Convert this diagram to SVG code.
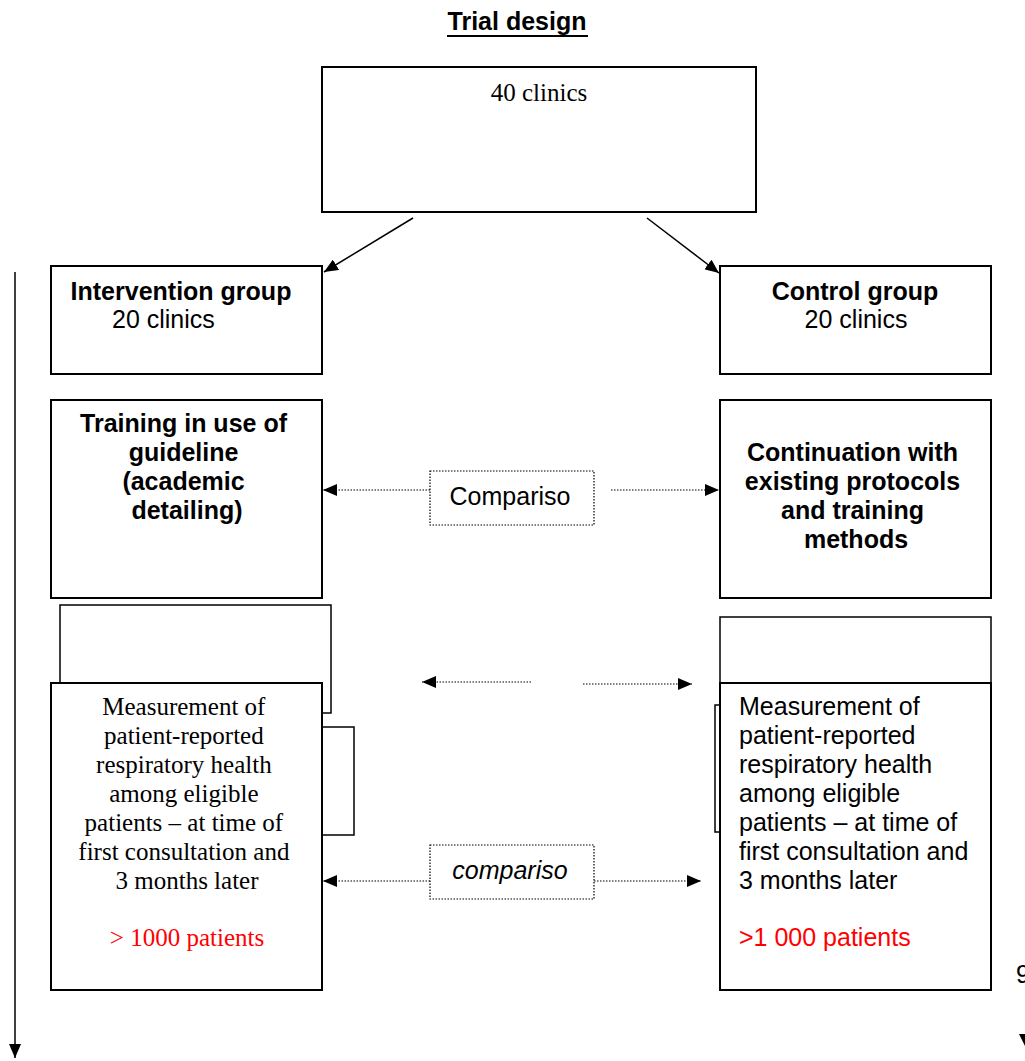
<svg xmlns="http://www.w3.org/2000/svg" width="1025" height="1061" viewBox="0 0 1025 1061">
<style>
.box{fill:#fff;stroke:#000;stroke-width:2}
.thin{fill:#fff;stroke:#000;stroke-width:1.5}
.dbox{fill:#fff;stroke:#000;stroke-width:1.2;stroke-dasharray:1.5 1.5}
.sans{font-family:"Liberation Sans",Arial,sans-serif;font-size:25px;fill:#000}
.b{font-weight:bold}
.serif{font-family:"Liberation Serif","Times New Roman",serif;font-size:25px;fill:#000}
.red{fill:#ff0000}
.ln{stroke:#000;stroke-width:1.5;fill:none}
.dot{stroke:#000;stroke-width:1.2;stroke-dasharray:1.5 1.5;fill:none}
</style>
<defs>
<marker id="ah2" viewBox="0 0 14 12" refX="14" refY="6" markerWidth="14" markerHeight="12" markerUnits="userSpaceOnUse" orient="auto">
<path d="M0,0 L14,6 L0,12 z" fill="#000"/>
</marker>
</defs>
<rect width="1025" height="1061" fill="#fff"/>

<g id="title">
<text x="517" y="30" text-anchor="middle" class="sans b" font-size="24">Trial design</text>
<line x1="447" y1="36" x2="588" y2="36" stroke="#000" stroke-width="2"/>
</g>

<g id="top">
<rect class="box" x="322" y="67" width="434" height="145"/>
<text x="539" y="101" text-anchor="middle" class="serif">40 clinics</text>
</g>

<g id="intervention">
<rect class="box" x="51" y="266" width="271" height="108"/>
<text x="181" y="300" text-anchor="middle" class="sans b">Intervention group</text>
<text x="112" y="328" class="sans">20 clinics</text>
</g>

<g id="control">
<rect class="box" x="720" y="266" width="271" height="108"/>
<text x="855" y="300" text-anchor="middle" class="sans b">Control group</text>
<text x="856" y="328" text-anchor="middle" class="sans">20 clinics</text>
</g>

<g id="training">
<rect class="box" x="51" y="400" width="271" height="198"/>
<text text-anchor="middle" class="sans b">
<tspan x="187" y="432">Training in use of</tspan>
<tspan x="187" y="461">guideline</tspan>
<tspan x="187" y="490">(academic</tspan>
<tspan x="187" y="519">detailing)</tspan>
</text>
</g>

<g id="continuation">
<rect class="box" x="720" y="400" width="271" height="198"/>
<text text-anchor="middle" class="sans b">
<tspan x="856" y="461">Continuation with</tspan>
<tspan x="856" y="490">existing protocols</tspan>
<tspan x="856" y="519">and training</tspan>
<tspan x="856" y="548">methods</tspan>
</text>
</g>

<g id="comparison1">
<rect class="dbox" x="430" y="471" width="164" height="54"/>
<text x="510" y="505" text-anchor="middle" class="sans" font-size="26">Compariso</text>
</g>

<g id="left-back">
<rect class="thin" x="60" y="605" width="271" height="108"/>
<rect class="thin" x="300" y="727" width="54" height="108"/>
</g>

<g id="right-back">
<rect class="thin" x="715" y="705" width="40" height="127"/>
<rect class="thin" x="720" y="617" width="271" height="108"/>
</g>

<g id="measure-left">
<rect class="box" x="51" y="683" width="271" height="307"/>
<text text-anchor="middle" class="serif">
<tspan x="187" y="715">Measurement of</tspan>
<tspan x="187" y="744">patient-reported</tspan>
<tspan x="187" y="773">respiratory health</tspan>
<tspan x="187" y="802">among eligible</tspan>
<tspan x="187" y="831">patients – at time of</tspan>
<tspan x="187" y="860">first consultation and</tspan>
<tspan x="187" y="889">3 months later</tspan>
</text>
<text x="187" y="946" text-anchor="middle" class="serif red">&gt; 1000 patients</text>
</g>

<g id="measure-right">
<rect class="box" x="720" y="683" width="271" height="307"/>
<text class="sans">
<tspan x="739" y="715">Measurement of</tspan>
<tspan x="739" y="744">patient-reported</tspan>
<tspan x="739" y="773">respiratory health</tspan>
<tspan x="739" y="802">among eligible</tspan>
<tspan x="739" y="831">patients – at time of</tspan>
<tspan x="739" y="860">first consultation and</tspan>
<tspan x="739" y="889">3 months later</tspan>
</text>
<text x="739" y="946" class="sans red">&gt;1 000 patients</text>
</g>

<g id="comparison2">
<rect class="dbox" x="430" y="845" width="164" height="54"/>
<text x="510" y="879" text-anchor="middle" class="sans" font-style="italic" font-size="26">compariso</text>
</g>

<g id="connectors">
<line class="ln" x1="413" y1="218" x2="324" y2="272" marker-end="url(#ah2)"/>
<line class="ln" x1="647" y1="218" x2="719" y2="273" marker-end="url(#ah2)"/>
<line class="dot" x1="430" y1="490" x2="323" y2="490" marker-end="url(#ah2)"/>
<line class="dot" x1="611" y1="490" x2="719" y2="490" marker-end="url(#ah2)"/>
<line class="dot" x1="531" y1="682" x2="422" y2="682" marker-end="url(#ah2)"/>
<line class="dot" x1="583" y1="684" x2="692" y2="684" marker-end="url(#ah2)"/>
<line class="dot" x1="430" y1="881" x2="323" y2="881" marker-end="url(#ah2)"/>
<line class="dot" x1="594" y1="881" x2="701" y2="881" marker-end="url(#ah2)"/>
<line class="ln" x1="15" y1="272" x2="15" y2="1058" marker-end="url(#ah2)"/>
</g>

<text x="1016" y="983" class="sans">9</text>
<path d="M1019,1034 L1025,1034 L1025,1046 z" fill="#000"/>
</svg>
